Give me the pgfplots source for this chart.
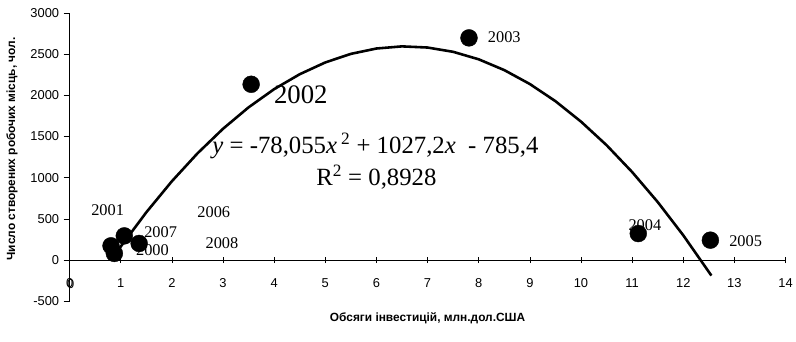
\documentclass[border=0pt]{standalone}
\usepackage{fontspec}
\setmainfont{Liberation Serif}
\newfontfamily\arial{Liberation Sans}
\usepackage{pgfplots}
\pgfplotsset{compat=1.18}
\begin{document}
\begin{tikzpicture}
\begin{axis}[
  scale only axis,
  width=720bp, height=290bp,
  xmin=0, xmax=14, ymin=-500, ymax=3000,
  axis x line=middle, axis y line=left,
  axis line style={-, line width=0.6bp},
  hide obscured x ticks=false, hide obscured y ticks=false,
  xtick={0,1,...,14}, ytick={-500,0,500,1000,1500,2000,2500,3000},
  x tick style={line width=0.6bp, black}, y tick style={line width=0.6bp, black},
  xtick align=center, ytick align=outside,
  major tick length=6bp,
  /pgf/number format/1000 sep={},
  /pgf/number format/assume math mode=true,
  tick label style={font=\arial\fontsize{13}{15}\selectfont},
  xticklabel style={yshift=-12bp},
  yticklabel style={xshift=-1bp},
  xlabel={\textbf{Обсяги інвестицій, млн.дол.США}},
  label style={font=\arial\fontsize{12}{14}\selectfont},
  xlabel style={at={(axis description cs:0.5,0)}, anchor=center, yshift=-17bp},
  clip=false,
]
\addplot[black, line width=2.6bp, line join=round] coordinates {
(0.81,-5) (1.0,164) (1.5,580) (2,957) (2.5,1295) (3,1594) (3.5,1854) (4,2075) (4.5,2256) (5,2399) (5.5,2503) (6,2568) (6.5,2594) (7,2580) (7.5,2528) (8,2437) (8.5,2306) (9,2137) (9.5,1929) (10,1681) (10.5,1395) (11,1069) (11.5,705) (12,301) (12.55,-188)
};
\node[rotate=90, anchor=center, font=\arial\bfseries\fontsize{12}{14}\selectfont] at ([xshift=-58bp]rel axis cs:0,0.528) {Число створених робочих місць, чол.};
\node[font=\arial\fontsize{13}{15}\selectfont] at (axis cs:0.02,-285) {0};
\node[font=\fontsize{16.5}{18}\selectfont] at (axis cs:0.744,603) {2001};
\node[font=\fontsize{16.5}{18}\selectfont] at (axis cs:2.82,576) {2006};
\node[font=\fontsize{16.5}{18}\selectfont] at (axis cs:1.78,334) {2007};
\node[font=\fontsize{16.5}{18}\selectfont] at (axis cs:1.62,121) {2000};
\node[font=\fontsize{16.5}{18}\selectfont] at (axis cs:2.98,201) {2008};
\node[font=\fontsize{27}{30}\selectfont] at (axis cs:4.52,2002) {2002};
\node[font=\fontsize{16.5}{18}\selectfont] at (axis cs:8.50,2702) {2003};
\node[font=\fontsize{16.5}{18}\selectfont] at (axis cs:11.25,423) {2004};
\node[font=\fontsize{16.5}{18}\selectfont] at (axis cs:13.22,230) {2005};
\node[font=\fontsize{25}{27}\selectfont] at (axis cs:5.98,1389) {\textit{y} = -78,055\textit{x}\,\textsuperscript{2} + 1027,2\textit{x}\ \ - 785,4};
\node[font=\fontsize{25}{27}\selectfont] at (axis cs:6.0,1011) {R\textsuperscript{2} = 0,8928};
\addplot[only marks, mark=*, mark size=8.5bp, black] coordinates {
(0.81,173) (0.875,81) (1.07,294) (1.36,202) (3.55,2134) (7.81,2697) (11.12,322) (12.53,242)
};
\end{axis}
\path ([shift={(-70bp,-40bp)}]current axis.south west) rectangle ([shift={(726bp,303bp)}]current axis.south west);
\end{tikzpicture}
\end{document}
